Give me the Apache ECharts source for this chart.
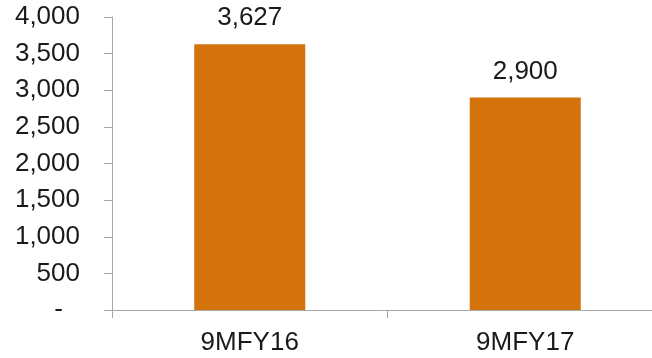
<!DOCTYPE html>
<html><head><meta charset="utf-8">
<script src="https://cdn.jsdelivr.net/npm/echarts@6/dist/echarts.min.js"></script>
<style>html,body{margin:0;padding:0;background:#fff}#c{width:652px;height:358px}</style>
</head><body><div id="c"></div>
<script>
const categories = ['9MFY16', '9MFY17'];
const values = [3627, 2900];
const yTicks = [0, 500, 1000, 1500, 2000, 2500, 3000, 3500, 4000];

function fmt(v) {
  return String(v).replace(/\B(?=(\d{3})+(?!\d))/g, ',');
}
const font = 'Liberation Sans';
const fs = 26;
const txt = '#1a1a1a';
const chart = echarts.init(document.getElementById('c'), null, {renderer: 'canvas'});
chart.setOption({
  animation: false,
  grid: {left: 112, width: 551, top: 17, height: 293, containLabel: false, outerBoundsMode: 'none'},
  xAxis: {
    type: 'category',
    data: categories,
    axisLine: {lineStyle: {color: '#A6A6A6', width: 1}},
    axisTick: {show: true, alignWithLabel: false, length: 8, lineStyle: {color: '#A6A6A6'}},
    axisLabel: {color: txt, fontFamily: font, fontSize: fs, margin: 20}
  },
  yAxis: {
    type: 'value',
    min: yTicks[0], max: yTicks[yTicks.length - 1], interval: 500,
    splitLine: {show: false},
    axisLine: {show: true, lineStyle: {color: '#A6A6A6', width: 1}},
    axisTick: {show: true, length: 8, lineStyle: {color: '#A6A6A6'}},
    axisLabel: {
      color: txt, fontFamily: font, fontSize: fs, margin: 32,
      formatter: v => v === 0 ? '{z|-}' : fmt(v),
      rich: {z: {color: txt, fontFamily: font, fontSize: fs, padding: [0, 17, 0, 0]}}
    }
  },
  series: [{
    type: 'bar',
    data: values,
    barWidth: '40.3%',
    itemStyle: {color: '#D4730B'},
    label: {show: true, position: 'top', distance: 13, color: txt, fontFamily: font, fontSize: fs, formatter: p => fmt(p.value)}
  }]
});
</script></body></html>
